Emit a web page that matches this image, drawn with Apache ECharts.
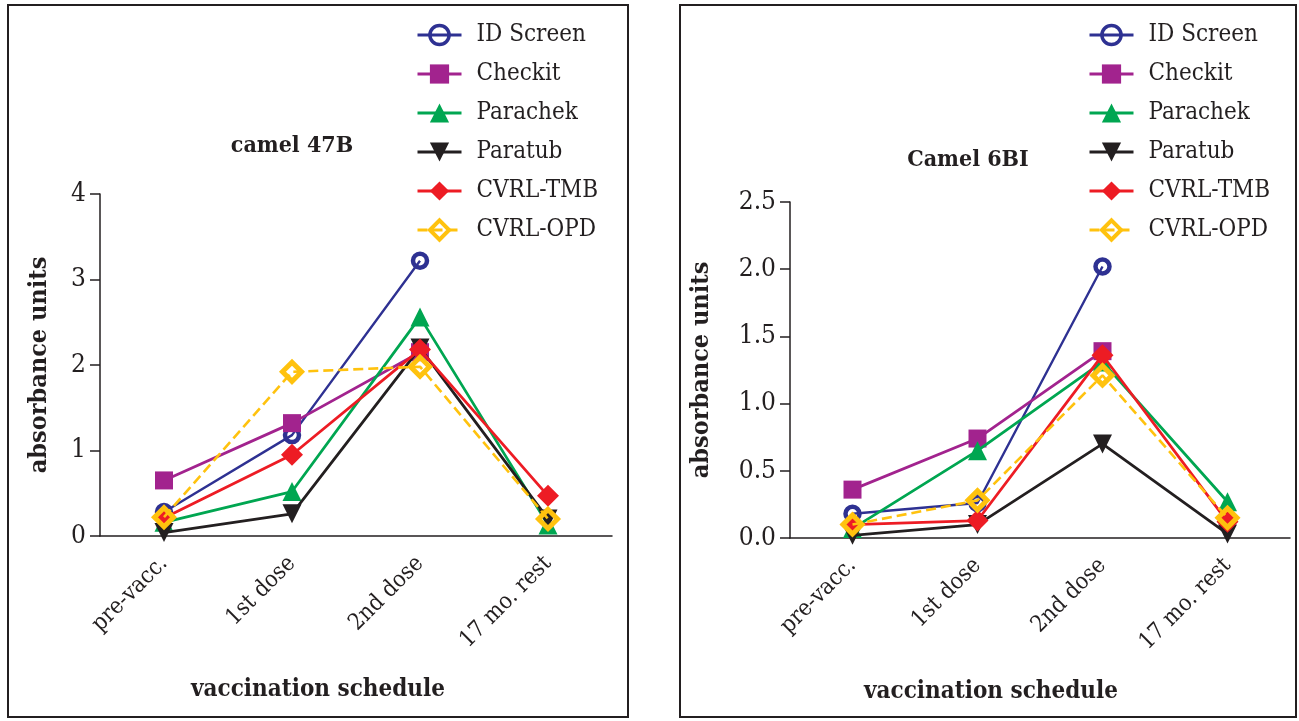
<!DOCTYPE html>
<html>
<head>
<meta charset="utf-8">
<script src="https://cdn.jsdelivr.net/npm/echarts@6/dist/echarts.min.js"></script>
<style>
  html, body { margin: 0; padding: 0; background: #fff; }
  #chart { width: 1299px; height: 721px; }
</style>
</head>
<body>
<div id="chart"></div>
<script>
// categories and tick labels
const categories = ['pre-vacc.', '1st dose', '2nd dose', '17 mo. rest'];
const seriesNames = ['ID Screen', 'Checkit', 'Parachek', 'Paratub', 'CVRL-TMB', 'CVRL-OPD'];
const yTicks47 = [0, 1, 2, 3, 4];
const yTicks6 = [0, 0.5, 1.0, 1.5, 2.0, 2.5];

// camel 47B
const idScreen47 = [0.28, 1.18, 3.22, null];
const checkit47 = [0.65, 1.32, 2.15, null];
const parachek47 = [0.16, 0.52, 2.56, 0.13];
const paratub47 = [0.04, 0.26, 2.20, 0.20];
const tmb47 = [0.21, 0.95, 2.18, 0.47];
const opd47 = [0.22, 1.92, 1.98, 0.20];

// Camel 6BI
const idScreen6 = [0.18, 0.26, 2.02, null];
const checkit6 = [0.36, 0.74, 1.39, null];
const parachek6 = [0.07, 0.65, 1.31, 0.27];
const paratub6 = [0.02, 0.10, 0.70, 0.03];
const tmb6 = [0.10, 0.13, 1.36, 0.12];
const opd6 = [0.10, 0.28, 1.21, 0.15];

const FONT = '"DejaVu Serif Condensed", "DejaVu Serif", serif';
const INK = '#231F20';

// marker / line style per assay
const styles = [
  { color: '#2E3192', symbol: 'circle', size: 14, fill: 'rgba(0,0,0,0)', border: 4.5, width: 2.4 },
  { color: '#A2238E', symbol: 'rect', size: 18, width: 2.8 },
  { color: '#00A651', symbol: 'triangle', size: 19, width: 2.8 },
  { color: INK, symbol: 'triangle', size: 19, rotate: 180, width: 2.8 },
  { color: '#ED1C24', symbol: 'diamond', size: 22, width: 2.8 },
  { color: '#FFC20E', symbol: 'diamond', size: 19, fill: 'rgba(0,0,0,0)', border: 5, width: 2.6, dash: [10, 5] }
];

const makeSeries = (values, idx) => values.map((data, i) => {
  const s = styles[i];
  return {
    name: seriesNames[i],
    type: 'line',
    xAxisIndex: idx,
    yAxisIndex: idx,
    data: data,
    symbol: s.symbol,
    symbolSize: s.size,
    symbolRotate: s.rotate || 0,
    connectNulls: false,
    lineStyle: { color: s.color, width: s.width, type: s.dash || 'solid' },
    itemStyle: {
      color: s.fill || s.color,
      borderColor: s.color,
      borderWidth: s.border || 0,
      opacity: 1
    },
    emphasis: { disabled: true },
    z: 2 + i
  };
});

const axisText = { color: INK, fontFamily: FONT };

const xAxisFor = (gridIndex, nameShift) => ({
  type: 'category',
  gridIndex: gridIndex,
  data: categories,
  boundaryGap: true,
  name: 'vaccination schedule',
  nameLocation: 'middle',
  nameGap: 142,
  nameTextStyle: { ...axisText, fontSize: 24, fontWeight: 'bold', padding: [0, nameShift, 0, 0] },
  axisLine: { lineStyle: { color: INK, width: 1.5 } },
  axisTick: { alignWithLabel: true, length: 10, lineStyle: { color: INK, width: 1.5 } },
  axisLabel: { ...axisText, fontSize: 23, rotate: 45, margin: 24, interval: 0 },
  splitLine: { show: false }
});

const yAxisFor = (gridIndex, ticks, nameGap, digits) => ({
  type: 'value',
  gridIndex: gridIndex,
  min: ticks[0],
  max: ticks[ticks.length - 1],
  interval: ticks[1] - ticks[0],
  name: 'absorbance units',
  nameLocation: 'middle',
  nameGap: nameGap,
  nameTextStyle: { ...axisText, fontSize: 25, fontWeight: 'bold' },
  axisLine: { show: true, lineStyle: { color: INK, width: 1.5 } },
  axisTick: { show: true, length: 10, lineStyle: { color: INK, width: 1.5 } },
  axisLabel: { ...axisText, fontSize: 26, margin: 14, formatter: (v) => v.toFixed(digits) },
  splitLine: { show: false }
});

// legend entries keep the bold markers and thick lines of the plot
const legendItems = seriesNames.map((name, i) => ({
  name: name,
  itemStyle: { borderWidth: styles[i].border ? styles[i].border - 1 : 0 },
  lineStyle: { width: 3 }
}));

const legendFor = (left) => ({
  orient: 'vertical',
  left: left,
  top: 23,
  padding: 0,
  itemWidth: 44,
  itemHeight: 24,
  itemGap: 15,
  data: legendItems,
  selectedMode: false,
  textStyle: { ...axisText, fontSize: 24, lineHeight: 22, padding: [0, 0, 0, 10] }
});

const panelFrame = (x, w) => ({
  type: 'rect',
  shape: { x: x, y: 5, width: w, height: 712 },
  style: { fill: 'none', stroke: INK, lineWidth: 2 },
  silent: true
});

const panelTitle = (x, y, text) => ({
  type: 'text',
  x: x,
  y: y,
  style: { text: text, fill: INK, font: 'bold 23px ' + FONT, align: 'center', verticalAlign: 'middle' },
  silent: true
});

const chart = echarts.init(document.getElementById('chart'));

chart.setOption({
  backgroundColor: '#ffffff',
  animation: false,
  graphic: [
    panelFrame(8, 620),
    panelFrame(680, 616),
    panelTitle(292, 146, 'camel 47B'),
    panelTitle(968, 160, 'Camel 6BI')
  ],
  legend: [legendFor(416), legendFor(1088)],
  grid: [
    { left: 100, top: 194, width: 512, height: 342 },
    { left: 790, top: 202, width: 500, height: 336 }
  ],
  xAxis: [xAxisFor(0, 76), xAxisFor(1, 98)],
  yAxis: [yAxisFor(0, yTicks47, 48, 0), yAxisFor(1, yTicks6, 76, 1)],
  series: [
    ...makeSeries([idScreen47, checkit47, parachek47, paratub47, tmb47, opd47], 0),
    ...makeSeries([idScreen6, checkit6, parachek6, paratub6, tmb6, opd6], 1)
  ]
});

window.addEventListener('resize', () => chart.resize());
</script>
</body>
</html>
